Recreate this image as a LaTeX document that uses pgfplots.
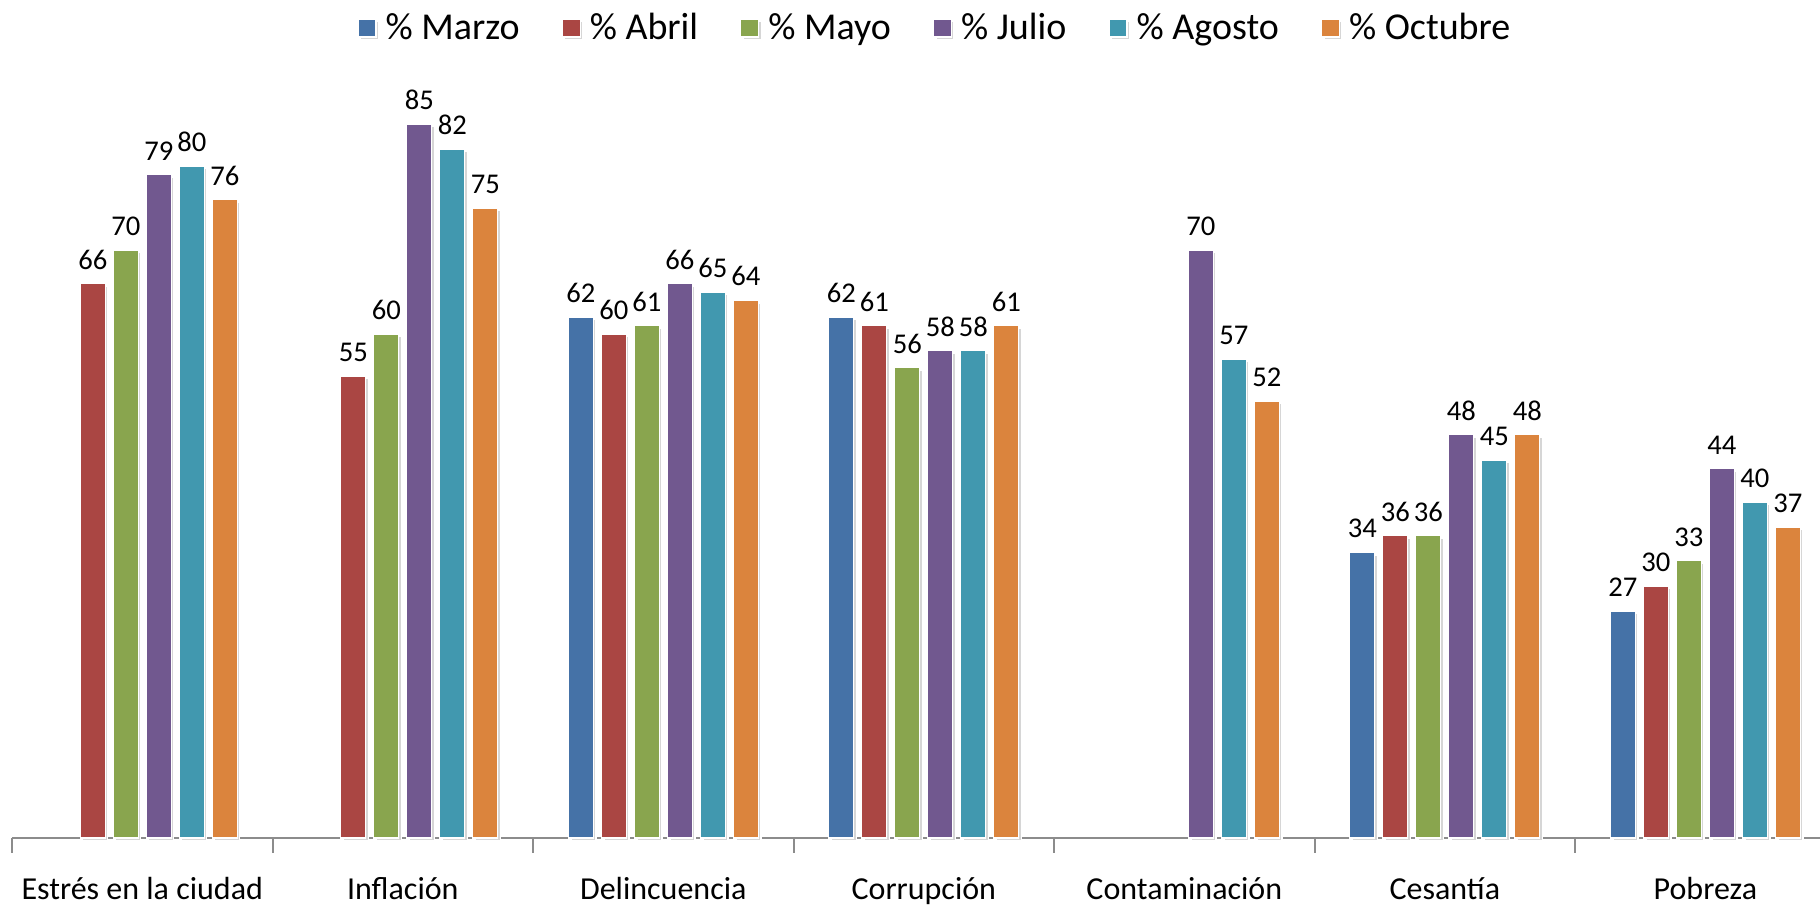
\documentclass[border=0pt]{standalone}
\usepackage{pgfplots}
\pgfplotsset{compat=1.18}
\usepackage{pgfplotstable}
\usepackage{fontspec}
\setmainfont{Carlito}

\definecolor{cMarzo}{HTML}{4572A7}
\definecolor{cAbril}{HTML}{AA4643}
\definecolor{cMayo}{HTML}{89A54E}
\definecolor{cJulio}{HTML}{71588F}
\definecolor{cAgosto}{HTML}{4198AF}
\definecolor{cOctubre}{HTML}{DB843D}
\definecolor{cEje}{HTML}{8C8C8C}

% % por mes; nan = sin dato
\pgfplotstableread{
x marzo abril mayo julio agosto octubre
0 nan 66  70  79 80 76
1 nan 55  60  85 82 75
2 62  60  61  66 65 64
3 62  61  56  58 58 61
4 nan nan nan 70 57 52
5 34  36  36  48 45 48
6 27  30  33  44 40 37
}\datos

\begin{document}
\begin{tikzpicture}
\begin{axis}[
  name=ax, scale only axis, width=904pt, height=378pt,
  ybar=4pt, bar width=12.5pt,
  xmin=-0.5, xmax=6.44, ymin=0, ymax=90,
  axis y line=none, axis x line*=bottom,
  x axis line style={cEje, line width=1pt},
  ytick=\empty,
  xtick={0,...,6},
  xticklabels={Estrés en la ciudad, Inflación, Delincuencia, Corrupción, Contaminación, Cesantía, Pobreza},
  major tick length=0pt, minor xtick={-0.5,0.5,...,5.5}, minor tick length=7.5pt,
  tick align=outside, tick style={cEje, line width=1pt},
  xticklabel style={font=\fontsize{16}{18}\selectfont, anchor=base, yshift=-31pt},
  /pgf/number format/assume math mode=true,
  nodes near coords,
  every node near coord/.append style={font=\fontsize{14.3}{16}\selectfont, black, yshift=3.5pt},
  clip=false,
  legend columns=6,
  legend style={draw=none, at={(0.511,1)}, anchor=center, yshift=27pt,
    font=\fontsize{19}{22}\selectfont,
    /tikz/every odd column/.append style={column sep=2.5pt},
    /tikz/every even column/.append style={column sep=19pt}},
  legend image code/.code={\fill[#1] (0pt,-4.5pt) rectangle (9pt,4.5pt);},
  barra/.style={fill=#1, draw=white, line width=0.6pt,
    preaction={fill=black!16, transform canvas={xshift=1.3pt, yshift=-1.3pt}}},
]
\addplot[barra=cMarzo]   table[x=x, y=marzo]   {\datos};
\addplot[barra=cAbril]   table[x=x, y=abril]   {\datos};
\addplot[barra=cMayo]    table[x=x, y=mayo]    {\datos};
\addplot[barra=cJulio]   table[x=x, y=julio]   {\datos};
\addplot[barra=cAgosto]  table[x=x, y=agosto]  {\datos};
\addplot[barra=cOctubre] table[x=x, y=octubre] {\datos};
\legend{\% Marzo, \% Abril, \% Mayo, \% Julio, \% Agosto, \% Octubre}
\end{axis}
\pgfresetboundingbox
\path ([xshift=-6pt, yshift=-34.5pt]ax.south west) rectangle ([yshift=41pt]ax.north east);
\end{tikzpicture}
\end{document}
